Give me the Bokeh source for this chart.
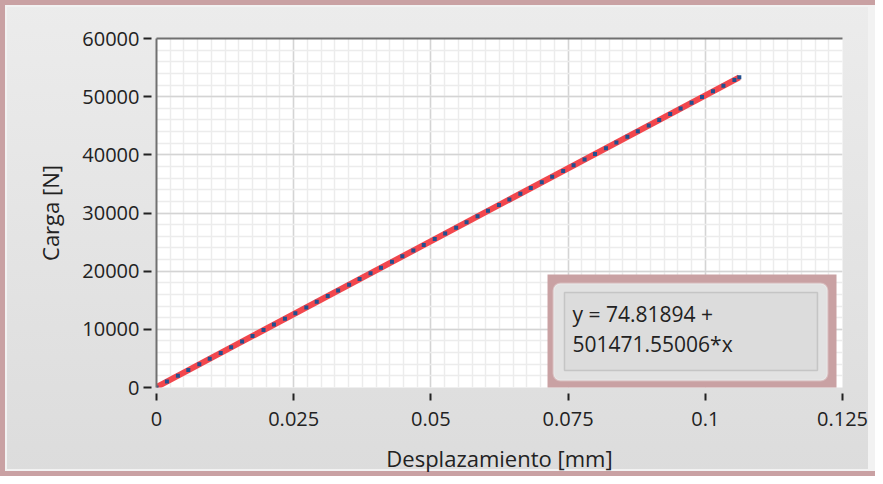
from bokeh.plotting import figure
from bokeh.models import (SingleIntervalTicker, LinearAxis, FixedTicker, BoxAnnotation,
                          Label, Range1d, Grid)
from bokeh.embed import file_html
from bokeh.resources import INLINE

# ---- data ----
desplazamiento = [0.0000, 0.0019, 0.0039, 0.0058, 0.0078, 0.0097, 0.0117, 0.0136, 0.0156, 0.0175,
                  0.0195, 0.0214, 0.0234, 0.0253, 0.0273, 0.0292, 0.0312, 0.0331, 0.0351, 0.0370,
                  0.0390, 0.0409, 0.0429, 0.0448, 0.0468, 0.0487, 0.0507, 0.0526, 0.0546, 0.0565,
                  0.0585, 0.0604, 0.0624, 0.0643, 0.0663, 0.0682, 0.0702, 0.0721, 0.0741, 0.0760,
                  0.0780, 0.0799, 0.0819, 0.0838, 0.0858, 0.0877, 0.0897, 0.0916, 0.0936, 0.0955,
                  0.0975, 0.0994, 0.1014, 0.1033, 0.1053, 0.1062]
carga = [0, 1030, 2040, 2990, 3990, 4950, 5940, 6920, 7900, 8860,
         9870, 10820, 11810, 12780, 13760, 14740, 15720, 16680, 17670, 18650,
         19630, 20590, 21600, 22550, 23540, 24510, 25510, 26470, 27460, 28420,
         29420, 30370, 31380, 32330, 33330, 34280, 35290, 36230, 37240, 38200,
         39190, 40150, 41150, 42100, 43100, 44060, 45060, 46010, 47020, 47960,
         48970, 49930, 50920, 51880, 52880, 53330]
fit_intercept = 74.81894
fit_slope = 501471.55006
fit_text = ["y = 74.81894 +", "501471.55006*x"]
x_label = "Desplazamiento [mm]"
y_label = "Carga [N]"

fit_x = [0.0, max(desplazamiento)]
fit_y = [fit_intercept + fit_slope * v for v in fit_x]

FONT = "Open Sans"
TXT = "#222222"

p = figure(output_backend="svg", toolbar_location=None,
           width=875, height=476, frame_width=686, frame_height=349,
           min_border_left=156, min_border_right=33, min_border_top=38, min_border_bottom=89,
           x_range=Range1d(0, 0.125), y_range=Range1d(0, 60000),
           x_axis_type=None, y_axis_type=None,
           background_fill_color="white", border_fill_alpha=0)
p.outline_line_color = None
p.styles = {
    "background": "linear-gradient(#ececec, #dcdcdc)",
    "box-shadow": ("inset 5px 0 0 0 #c9a1a3, inset 0 5px 0 0 #c9a1a3, "
                   "inset 0 -5px 0 0 #c9a1a3, inset 0 0 0 7px #f2f2f2"),
}

xticker = SingleIntervalTicker(interval=0.025, num_minor_ticks=10)
yticker = SingleIntervalTicker(interval=10000, num_minor_ticks=5)

# grids
for dim, tk in ((0, xticker), (1, yticker)):
    p.add_layout(Grid(dimension=dim, ticker=tk,
                      grid_line_color="#d4d4d4", grid_line_width=1.5,
                      minor_grid_line_color="#ececec", minor_grid_line_width=1.5))

xaxis = LinearAxis(ticker=xticker, axis_label=x_label)
yaxis = LinearAxis(ticker=yticker, axis_label=y_label)
for ax in (xaxis, yaxis):
    ax.major_label_text_font = FONT
    ax.major_label_text_font_size = "20px"
    ax.major_label_text_color = TXT
    ax.axis_label_text_font = FONT
    ax.axis_label_text_font_size = "22px"
    ax.axis_label_text_font_style = "normal"
    ax.axis_label_text_color = TXT
    ax.minor_tick_line_color = None
    ax.major_tick_line_color = "#222222"
    ax.major_tick_line_width = 2
xaxis.axis_line_color = None
xaxis.major_tick_in = -6
xaxis.major_tick_out = 13
xaxis.major_label_standoff = 11
xaxis.axis_label_standoff = 14
yaxis.axis_line_color = "#707070"
yaxis.axis_line_width = 2
yaxis.major_tick_in = -5
yaxis.major_tick_out = 13
yaxis.major_label_standoff = 4
yaxis.axis_label_standoff = 14
p.add_layout(xaxis, "below")
p.add_layout(yaxis, "left")

top = LinearAxis(ticker=FixedTicker(ticks=[]), axis_line_color="#707070", axis_line_width=2,
                 major_tick_line_color=None, minor_tick_line_color=None,
                 major_label_text_font_size="0px")
p.add_layout(top, "above")

p.line(fit_x, fit_y, line_color="#f2474d", line_width=6)
p.scatter(desplazamiento, carga, marker="square", size=4, fill_color="#22508f",
          line_color=None)

# fit-result box
p.add_layout(BoxAnnotation(left=0.07125, right=0.12391, bottom=-300, top=19427,
                           fill_color="#c9a1a3", fill_alpha=1, line_color=None))
p.add_layout(BoxAnnotation(left=0.07234, right=0.12227, bottom=1203, top=17880,
                           fill_color="#e2e2e2", fill_alpha=1, line_color="#f7f7f7",
                           line_width=2, border_radius=7))
p.add_layout(BoxAnnotation(left=0.07434, right=0.12044, bottom=2923, top=16332,
                           fill_color="#dcdcdc", fill_alpha=1, line_color="#8a8a8a",
                           line_width=1.5))
for txt, yy in zip(fit_text, [12722, 7564]):
    p.add_layout(Label(x=0.0758, y=yy, text=txt, text_font=FONT, text_font_size="21px",
                       text_color=TXT, text_baseline="middle"))

open("out.html", "w").write(file_html(p, INLINE))
